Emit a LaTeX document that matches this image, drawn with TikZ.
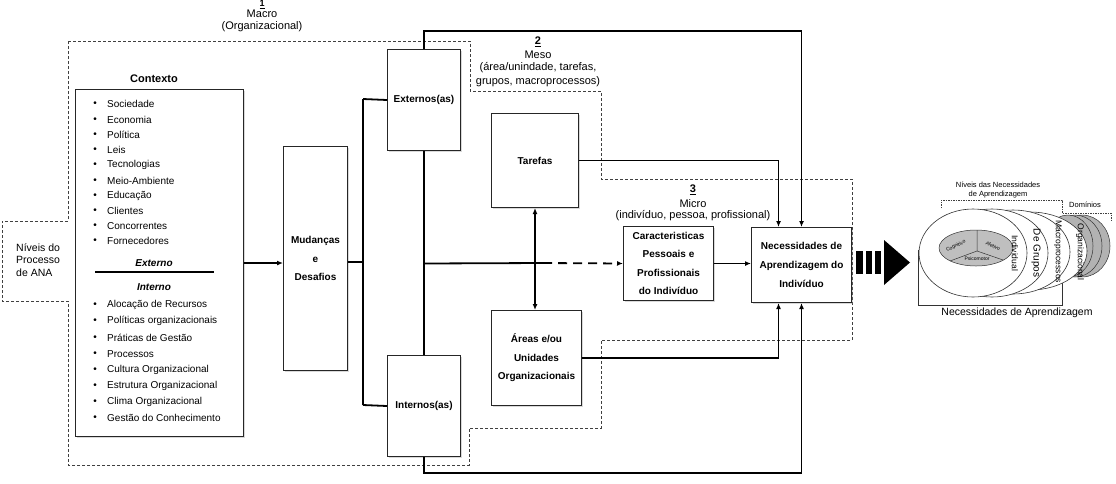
\documentclass[tikz,border=0pt]{standalone}
\usepackage{fontspec}
\setmainfont{Liberation Sans}
\usetikzlibrary{shadows,arrows.meta}
\tikzset{
  box/.style={draw=black!85, line width=1pt, fill=white, inner sep=0pt,
    drop shadow={opacity=0.3, shadow xshift=1.5pt, shadow yshift=-1.5pt}},
  btxt/.style={font=\fontsize{10}{18.6}\selectfont\bfseries, align=center},
  conn/.style={line width=1.8pt},
  arr/.style={conn, -{Latex[length=6pt,width=5pt]}},
  darr/.style={conn, {Latex[length=6pt,width=5pt]}-{Latex[length=6pt,width=5pt]}},
  region/.style={draw=black!75, line width=0.8pt, dash pattern=on 3pt off 2pt},
  lbl/.style={font=\fontsize{11}{13}\selectfont, inner sep=0pt},
  item/.style={font=\fontsize{10}{12}\selectfont, anchor=west, inner sep=0pt},
  bul/.style={font=\fontsize{10}{12}\selectfont, inner sep=0pt},
  small/.style={font=\fontsize{7.5}{9}\selectfont, inner sep=0pt, align=center},
  elab/.style={font=\fontsize{8.5}{10}\selectfont, inner sep=0pt, rotate=-90},
  tiny/.style={font=\fontsize{5}{6}\selectfont, inner sep=0pt},
}
\begin{document}
\begin{tikzpicture}[x=1pt,y=-1pt]
\useasboundingbox (0,0) rectangle (1116,483);

% dashed regions (macro / meso / micro)
\draw[region] (68,41) -- (470,41) -- (470,91) -- (601,91) -- (601,179) -- (852,179)
  -- (852,340) -- (601,340) -- (601,428) -- (469,428) -- (469,465) -- (68,465)
  -- (68,301) -- (2,301) -- (2,221) -- (68,221) -- cycle;

% level labels
\node[lbl, font=\fontsize{9}{10}\selectfont\bfseries] (n1) at (262,4.5) {\underline{1}};
\node[lbl] (l1a) at (262,14) {Macro};
\node[lbl] (l1b) at (262,27) {(Organizacional)};
\node[lbl, font=\fontsize{11}{13}\selectfont\bfseries] (n2) at (538,42) {\underline{2}};
\node[lbl] (l2a) at (538,55) {Meso};
\node[lbl] (l2b) at (538,68) {(área/unindade, tarefas,};
\node[lbl] (l2c) at (538,82) {grupos, macroprocessos)};
\node[lbl, font=\fontsize{11}{13}\selectfont\bfseries] (n3) at (693,190) {\underline{3}};
\node[lbl] (l3a) at (693,204) {Micro};
\node[lbl] (l3b) at (693,216) {(indivíduo, pessoa, profissional)};
\node[lbl, font=\fontsize{10.5}{12.5}\selectfont, align=left, anchor=west] (niv) at (16,260)
  {Níveis do\\Processo\\de ANA};

% Contexto box
\node[font=\fontsize{11}{13}\selectfont\bfseries, inner sep=0pt] (ctxt) at (154,79) {Contexto};
\node[box, anchor=north west, minimum width=168pt, minimum height=347pt] (ctx) at (75,89) {};
\foreach \t/\y [count=\i] in {Sociedade/104, Economia/120, Política/135, Leis/150,
  Tecnologias/165, Meio-Ambiente/181, Educação/196, Clientes/211, Concorrentes/226,
  Fornecedores/241, Alocação de Recursos/305, Políticas organizacionais/321,
  Práticas de Gestão/338, Processos/354, Cultura Organizacional/370,
  Estrutura Organizacional/386, Clima Organizacional/402, Gestão do Conhecimento/418}{
  \node[bul] (b\i) at (95,\y) {\textbullet};
  \node[item] (t\i) at (107,\y) {\t};
}
\node[font=\fontsize{10}{12}\selectfont\bfseries\itshape, inner sep=0pt] (ext0) at (154,263) {Externo};
\coordinate (sepL) at (95,272);
\coordinate (sepR) at (214,272);
\draw[line width=1.5pt] (sepL) -- (sepR);
\node[font=\fontsize{10}{12}\selectfont\bfseries\itshape, inner sep=0pt] (int0) at (154,287) {Interno};

% main boxes
\node[box, anchor=north west, minimum width=64pt, minimum height=224pt] (mud) at (283,146) {};
\node[btxt] (mudt) at (mud.center) {Mudanças\\e\\Desafios};
\node[box, anchor=north west, minimum width=73pt, minimum height=101pt] (ext) at (387,49) {};
\node[btxt] at (ext.center) {Externos(as)};
\node[box, anchor=north west, minimum width=73pt, minimum height=101pt] (int) at (387,355) {};
\node[btxt] at (int.center) {Internos(as)};
\node[box, anchor=north west, minimum width=87pt, minimum height=94pt] (tar) at (491,113) {};
\node[btxt] at (tar.center) {Tarefas};
\node[box, anchor=north west, minimum width=90pt, minimum height=95pt] (are) at (491,310) {};
\node[btxt] at (are.center) {Áreas e/ou\\Unidades\\Organizacionais};
\node[box, anchor=north west, minimum width=90pt, minimum height=74pt] (car) at (623,226) {};
\node[btxt] at (car.center) {Caracteristicas\\Pessoais e\\Profissionais\\do Indivíduo};
\node[box, anchor=north west, minimum width=100pt, minimum height=75pt] (nec) at (751,227) {};
\node[btxt] at (nec.center) {Necessidades de\\Aprendizagem do\\Indivíduo};

% connectors
\coordinate (busT) at (363,99);
\coordinate (busB) at (363,405);
\coordinate (busM) at (363,262);
\coordinate (yT) at (0,31);
\coordinate (yB) at (0,473);
\coordinate (dashStart) at (543,263);
\draw[arr] (ctx.east) -- (ctx.east -| mud.west);
\draw[conn] (busT) -- (busB);
\draw[conn] (mud.east |- busM) -- (busM);
\draw[conn] (busT) -- (ext.west);
\draw[conn] (busB) -- (int.west);
\draw[conn] (ext.south) -- (int.north);
\draw[conn] (ext.south |- car.west) -- (dashStart);
\draw[arr, dash pattern=on 9pt off 6pt] (dashStart) -- (car.west);
\draw[darr] (tar.south) -- (tar.south |- are.north);
\draw[arr] (car.east) -- (car.east -| nec.west);
\draw[arr] (tar.east) -| ([xshift=-23pt]nec.north);
\draw[arr] (are.east) -| ([xshift=-23pt]nec.south);
\draw[arr] (ext.north) -- (ext.north |- yT) -| (nec.north);
\draw[arr] (int.south) -- (int.south |- yB) -| (nec.south);

% big striped arrow
\fill[black] (856,251) rectangle (863,274);
\fill[black] (866,251) rectangle (872,274);
\fill[black] (875,251) rectangle (881,274);
\fill[black] (884,240) -- (910,262.5) -- (884,285) -- cycle;

% right graphic
\draw[black!80, line width=0.6pt] (918,250) -- (918,305) -- (1062,305) -- (1062,250);
\foreach \cx/\rx [count=\i] in {1082/28, 1075/27, 1068/25}{
  \draw[black!80, fill=black!30, line width=0.5pt] (\cx,246) ellipse [x radius=\rx, y radius=31];
}
\draw[black!80, fill=white, line width=0.6pt] (1030,251) ellipse [x radius=57, y radius=39];
\draw[black!80, fill=white, line width=0.6pt] (1013,252) ellipse [x radius=57, y radius=42];
\draw[black!80, fill=white, line width=0.6pt] (992,253) ellipse [x radius=56, y radius=44];
\draw[black!80, fill=white, line width=0.6pt] (973,253) ellipse [x radius=54, y radius=44];
\draw[black!80, fill=black!25, line width=0.5pt] (976,248) ellipse [x radius=37, y radius=18];
\coordinate (yc) at (977,251);
\coordinate (ya) at (977,230);
\coordinate (yl) at (950,261);
\coordinate (yr) at (1003,260);
\draw[black!80, line width=0.5pt] (yc) -- (ya) (yc) -- (yl) (yc) -- (yr);
\node[tiny, rotate=25] (cog) at (956,246) {Cognitivo};
\node[tiny, rotate=-25] (afe) at (993,246) {Afetivo};
\node[tiny] (psi) at (977,259) {Psicomotor};
\node[elab] (e1) at (1015,253) {Individual};
\node[elab, font=\fontsize{10}{12}\selectfont] (e2) at (1036,253) {De Grupos};
\node[elab] (e3) at (1058,252) {Macroprocessos};
\node[elab] (e4) at (1080,252) {Organizacional};
\draw[region, line width=0.5pt, dash pattern=on 1.5pt off 1pt] (941,208) -- (941,200) -- (1062,200) -- (1062,213) -- (1111,213) -- (1111,222);
\node[small] (nivn) at (998,190) {Níveis das Necessidades\\de Aprendizagem};
\node[small] (dom) at (1085,205) {Domínios};
\node[font=\fontsize{10.5}{12}\selectfont, inner sep=0pt] (cap) at (1017,313) {Necessidades de Aprendizagem};
\end{tikzpicture}
\end{document}
